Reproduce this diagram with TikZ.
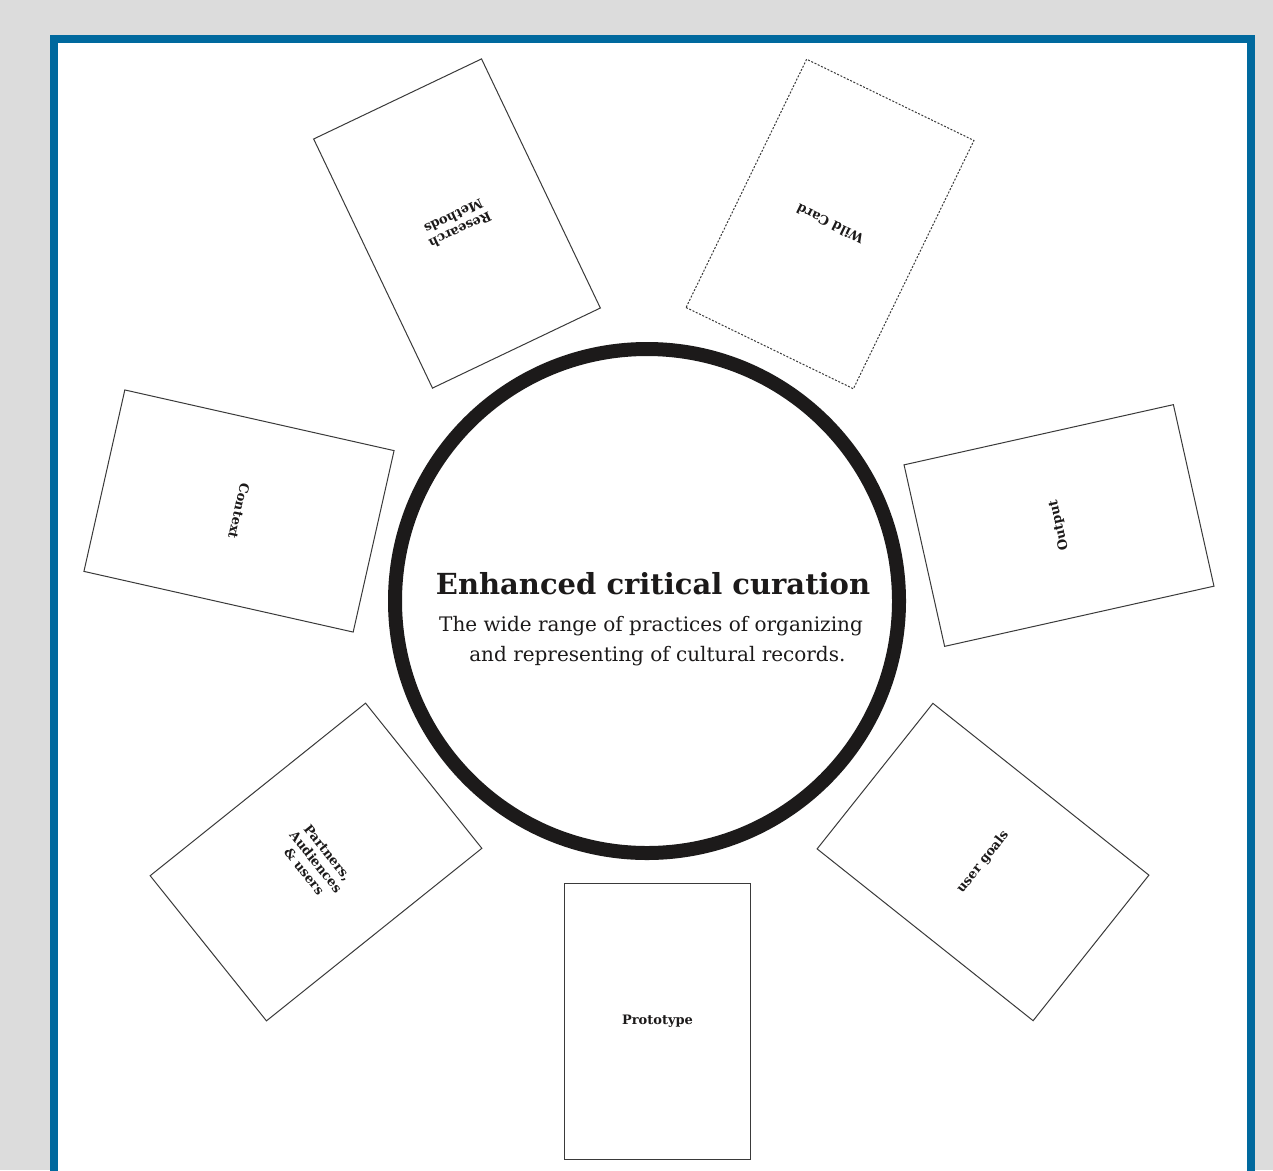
\documentclass[tikz,border=0pt]{standalone}
\usepackage{fontspec}
\setmainfont{DejaVu Serif}
\definecolor{bggray}{HTML}{DCDCDC}
\definecolor{frameblue}{HTML}{00699E}
\definecolor{ink}{HTML}{1C1A1A}
\definecolor{cardline}{HTML}{3A3A3A}
\tikzset{
  card/.style={draw=cardline, line width=1pt, fill=white, minimum width=186pt, minimum height=276pt, inner sep=0pt, align=center, font=\fontsize{13}{15}\selectfont\bfseries, text=ink},
  wildcard/.style={card, dash pattern=on 2pt off 1.6pt},
  ringstyle/.style={circle, draw=ink, line width=14pt, minimum size=504pt, inner sep=0pt},
  titletext/.style={font=\fontsize{29}{32}\selectfont\bfseries, text=ink, inner sep=0pt},
  subtext/.style={font=\fontsize{20}{30}\selectfont, text=ink, align=center, inner sep=0pt}
}
\begin{document}
\begin{tikzpicture}[x=1pt, y=-1pt]
\useasboundingbox (0,0) rectangle (1273,1170);
\clip (0,0) rectangle (1273,1170);
\fill[bggray] (0,0) rectangle (1273,1170);
\fill[white] (58,43) rectangle (1247,1180);
\draw[frameblue, line width=8pt] (54,1190) -- (54,39) -- (1251,39) -- (1251,1190);

\node[ringstyle] (ring) at (647,601) {};
\node[titletext, anchor=base] (title) at (653,594) {Enhanced critical curation};
\node[subtext, anchor=base] (sub) at (651,661) {The wide range of practices of organizing\\ \ \ and representing of cultural records.};

\node[card, rotate=205.5] (research) at (457,223.5) {Research\\Methods};
\node[wildcard, rotate=154.1] (wild) at (830,224) {Wild Card};
\node[card, rotate=-102.7] (context) at (239,511) {Context};
\node[card, rotate=102.6] (output) at (1059,525.5) {Output};
\node[card, rotate=-51.3] (partners) at (316,862) {Partners,\\Audiences\\\& users};
\node[card, rotate=51.5] (goals) at (983,862) {user goals};
\node[card] (proto) at (657.5,1021.5) {Prototype};
\end{tikzpicture}
\end{document}
